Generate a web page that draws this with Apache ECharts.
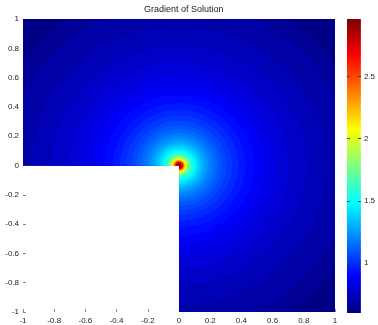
<!DOCTYPE html>
<html>
<head>
<meta charset="utf-8">
<script src="https://cdn.jsdelivr.net/npm/echarts@6/dist/echarts.min.js"></script>
<style>
html, body { margin: 0; padding: 0; background: #fff; }
#chart { width: 378px; height: 325px; }
</style>
</head>
<body>
<div id="chart"></div>
<script>
// |grad u| bands around the re-entrant corner, outermost ring first
const ringRadius = [1.50, 1.22, 1.11, 0.95, 0.82, 0.71, 0.62, 0.545, 0.48, 0.425,
  0.38, 0.34, 0.305, 0.275, 0.248, 0.224, 0.203, 0.185, 0.169, 0.154,
  0.141, 0.129, 0.118, 0.108, 0.099, 0.092, 0.086, 0.080, 0.075, 0.071,
  0.067, 0.063, 0.060, 0.055, 0.050, 0.046, 0.042, 0.039, 0.036, 0.033,
  0.031, 0.029, 0.027, 0.025, 0.022, 0.019, 0.016, 0.012]
const ringValue = [0.618, 0.655, 0.692, 0.729, 0.766, 0.803, 0.840, 0.877, 0.913, 0.950,
  0.987, 1.024, 1.061, 1.098, 1.135, 1.172, 1.208, 1.245, 1.282, 1.319,
  1.356, 1.393, 1.430, 1.467, 1.503, 1.540, 1.577, 1.614, 1.651, 1.688,
  1.725, 1.761, 1.817, 1.891, 1.964, 2.038, 2.112, 2.186, 2.259, 2.333,
  2.407, 2.481, 2.554, 2.628, 2.702, 2.776, 2.849, 2.940]
const colorRange = [0.6, 2.96]
const colorbarTicks = [1, 1.5, 2, 2.5]
const jet = ['#00007f', '#0000ff', '#007fff', '#00ffff', '#7fff7f', '#ffff00', '#ff7f00', '#ff0000', '#7f0000']

const chart = echarts.init(document.getElementById('chart'))

function renderRing (params, api) {
  const r = api.value(0)
  const pts = [api.coord([0, 0])]
  for (let a = -90; a <= 180; a += 1.5) {
    const t = a * Math.PI / 180
    pts.push(api.coord([r * Math.cos(t), r * Math.sin(t)]))
  }
  return {
    type: 'polygon',
    shape: { points: pts },
    style: { fill: api.visual('color') }
  }
}

function renderColorbar (params, api) {
  const lo = api.coord([0, api.value(0)])
  const hi = api.coord([1, api.value(1)])
  const stops = jet.map((c, i) => ({ offset: i / (jet.length - 1), color: c }))
  return {
    type: 'rect',
    shape: { x: lo[0], y: hi[1], width: hi[0] - lo[0], height: lo[1] - hi[1] },
    style: { fill: new echarts.graphic.LinearGradient(0, 1, 0, 0, stops) }
  }
}

const labelStyle = { fontSize: 8, color: '#222', fontFamily: 'Liberation Sans' }
// ticks sit on the frame edges, not on the zero lines
const hiddenLine = { show: false, onZero: false }

chart.setOption({
  animation: false,
  title: {
    text: 'Gradient of Solution',
    left: 144,
    top: 5,
    padding: 0,
    textStyle: { fontSize: 9, fontWeight: 'normal', color: '#222', fontFamily: 'Liberation Sans' }
  },
  grid: [
    { left: 23, top: 19, width: 312, height: 294 },
    { left: 347, top: 19, width: 16, height: 294 }
  ],
  xAxis: [
    {
      type: 'value',
      min: -1,
      max: 1,
      interval: 0.2,
      axisLine: hiddenLine,
      axisTick: { inside: true, length: 3, lineStyle: { color: '#888' } },
      axisLabel: Object.assign({ margin: 5 }, labelStyle),
      splitLine: { show: false }
    },
    { type: 'value', gridIndex: 1, show: false, min: 0, max: 1, axisLine: hiddenLine }
  ],
  yAxis: [
    {
      type: 'value',
      min: -1,
      max: 1,
      interval: 0.2,
      axisLine: hiddenLine,
      axisTick: { inside: true, length: 3, lineStyle: { color: '#888' } },
      axisLabel: Object.assign({ margin: 4 }, labelStyle),
      splitLine: { show: false }
    },
    {
      type: 'value',
      gridIndex: 1,
      position: 'right',
      min: colorRange[0],
      max: colorRange[1],
      z: 10,
      axisLine: hiddenLine,
      axisTick: { inside: true, length: 3, customValues: colorbarTicks, lineStyle: { color: '#444' } },
      axisLabel: Object.assign({ margin: 3, customValues: colorbarTicks }, labelStyle),
      splitLine: { show: false }
    },
    {
      type: 'value',
      gridIndex: 1,
      position: 'left',
      min: colorRange[0],
      max: colorRange[1],
      z: 10,
      axisLine: hiddenLine,
      axisTick: { inside: true, length: 3, customValues: colorbarTicks, lineStyle: { color: '#444' } },
      axisLabel: { show: false },
      splitLine: { show: false }
    }
  ],
  visualMap: {
    type: 'continuous',
    show: false,
    min: colorRange[0],
    max: colorRange[1],
    dimension: 1,
    seriesIndex: 0,
    inRange: { color: jet }
  },
  series: [
    {
      type: 'custom',
      clip: true,
      renderItem: renderRing,
      data: ringRadius.map((r, i) => [r, ringValue[i]])
    },
    {
      type: 'custom',
      xAxisIndex: 1,
      yAxisIndex: 1,
      renderItem: renderColorbar,
      encode: { x: -1, y: [0, 1] },
      data: [colorRange]
    }
  ]
})
</script>
</body>
</html>
